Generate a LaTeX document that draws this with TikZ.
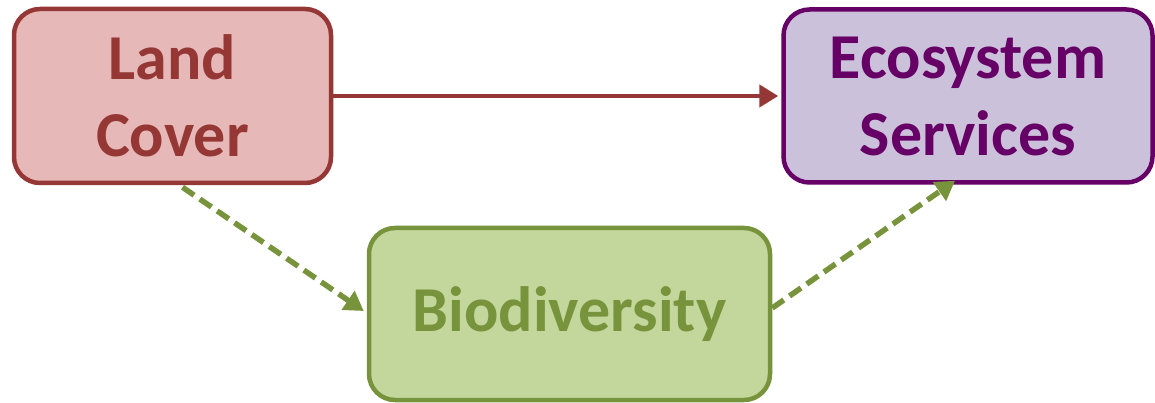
\documentclass[tikz,border=0pt]{standalone}
\usepackage{fontspec}
\setmainfont{Carlito}
\usetikzlibrary{arrows.meta}
\definecolor{lcfill}{HTML}{E6B8B7}
\definecolor{lcdraw}{HTML}{953735}
\definecolor{esfill}{HTML}{CCC1DA}
\definecolor{esdraw}{HTML}{660066}
\definecolor{bifill}{HTML}{C3D69B}
\definecolor{bidraw}{HTML}{77933C}
\tikzset{
  boxnode/.style={rectangle, rounded corners=26pt, line width=4.5pt, align=center,
    font=\fontsize{64}{77}\selectfont\bfseries, inner sep=0pt},
  redarrow/.style={draw=lcdraw, line width=4.5pt, -{Triangle[length=19pt,width=22pt]}},
  greenarrow/.style={draw=bidraw, line width=5.5pt, dash pattern=on 14pt off 7pt,
    -{Triangle[length=19pt,width=22pt]}},
}
\begin{document}
\begin{tikzpicture}[x=1pt,y=-1pt]
\useasboundingbox (0,0) rectangle (1155,403);
\node[boxnode, fill=lcfill, draw=lcdraw, text=lcdraw, minimum width=317pt, minimum height=174pt] (lc) at (172.5,96) {Land\\Cover};
\node[boxnode, fill=esfill, draw=esdraw, text=esdraw, minimum width=369pt, minimum height=173pt] (es) at (968,96) {Ecosystem\\Services};
\node[boxnode, fill=bifill, draw=bidraw, text=bidraw, minimum width=401pt, minimum height=172pt] (bi) at (569.5,314) {Biodiversity};
\draw[redarrow, shorten >=3pt] (lc.east) -- (es.west);
\draw[greenarrow] ([xshift=10pt,yshift=-2pt]lc.south) -- ([xshift=-3pt,yshift=3pt]bi.west);
\draw[greenarrow] ([yshift=6pt]bi.east) -- ([xshift=-13pt,yshift=4pt]es.south);
\end{tikzpicture}
\end{document}
